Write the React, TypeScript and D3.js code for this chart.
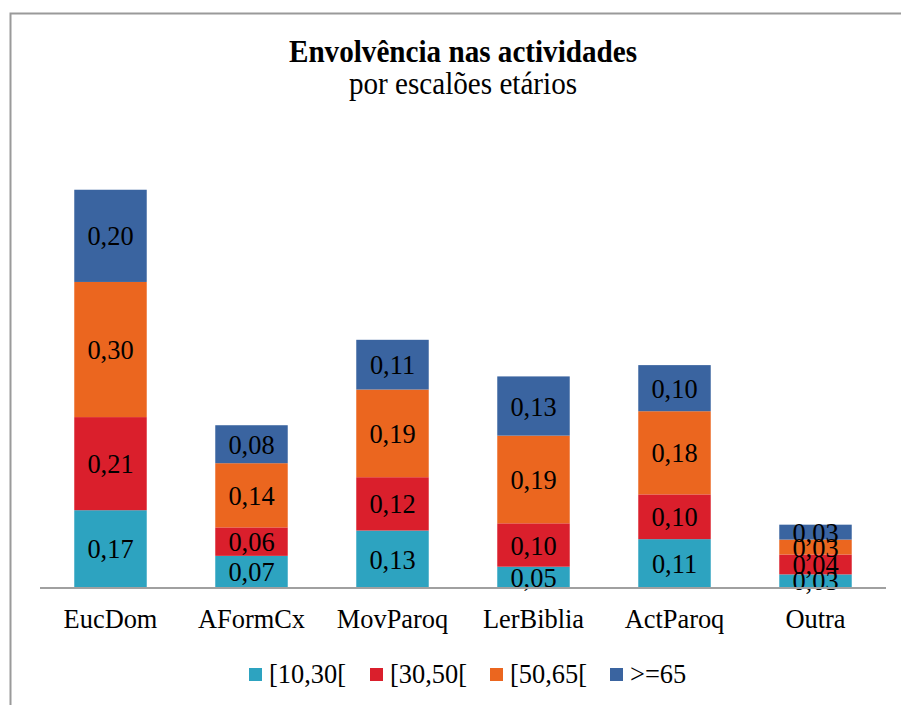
import React from "react";
import * as d3 from "d3";

const categories = ["EucDom", "AFormCx", "MovParoq", "LerBiblia", "ActParoq", "Outra"];
const seriesNames = ["[10,30[", "[30,50[", "[50,65[", ">=65"];
const s1030 = [0.171, 0.070, 0.126, 0.046, 0.107, 0.029];
const s3050 = [0.206, 0.063, 0.118, 0.096, 0.099, 0.044];
const s5065 = [0.299, 0.142, 0.194, 0.194, 0.184, 0.033];
const s65 = [0.204, 0.084, 0.110, 0.131, 0.102, 0.033];
const seriesValues = [s1030, s3050, s5065, s65];
const colors = ["#2DA3C0", "#DA1F2C", "#EB661F", "#3A64A0"];

const W = 901;
const H = 705;
const FONT = "Liberation Serif";

function T(props: {
  x: number;
  y: number;
  size: number;
  sx: number;
  anchor?: string;
  bold?: boolean;
  children: any;
}) {
  return (
    <text
      transform={`translate(${props.x},${props.y}) scale(${props.sx},1)`}
      textAnchor={props.anchor || "start"}
      fontSize={props.size}
      fontWeight={props.bold ? "bold" : "normal"}
      fill="#000"
      style={{ fontFamily: FONT }}
    >
      {props.children}
    </text>
  );
}

export default function App() {
  const x = d3
    .scaleBand<string>()
    .domain(categories)
    .range([40, 886])
    .paddingInner(0.486)
    .paddingOuter(0.243);
  const y = d3.scaleLinear().domain([0, 1]).range([587.5, 135.5]);

  const rows = categories.map((c, i) => {
    const r: any = { cat: c };
    seriesNames.forEach((s, j) => (r[s] = seriesValues[j][i]));
    return r;
  });
  const stacked = d3.stack<any>().keys(seriesNames)(rows);
  const fmt = (v: number) => v.toFixed(2).replace(".", ",");

  const legendX = [249, 370, 490, 610];
  const BS = 27.5;
  const BX = 0.96;

  return (
    <svg
      width={W}
      height={H}
      style={{ position: "absolute", left: 0, top: 0, background: "#fff" }}
    >
      <rect x={0} y={0} width={W} height={H} fill="#fff" />
      <path d="M10.5,706 V13.5 H902" fill="none" stroke="#9a9a9a" strokeWidth={2} />
      <T x={463} y={62} size={31} sx={0.94} anchor="middle" bold>
        Envolvência nas actividades
      </T>
      <T x={463} y={94} size={31} sx={0.94} anchor="middle">
        por escalões etários
      </T>
      {stacked.map((layer, j) => (
        <g key={layer.key}>
          {layer.map((d, i) => (
            <rect
              key={i}
              x={x(categories[i])}
              y={y(d[1])}
              width={x.bandwidth()}
              height={y(d[0]) - y(d[1])}
              fill={colors[j]}
            />
          ))}
        </g>
      ))}
      {stacked.map((layer, j) => (
        <g key={"l" + layer.key}>
          {layer.map((d, i) => (
            <T
              key={i}
              x={(x(categories[i]) as number) + x.bandwidth() / 2}
              y={(y(d[0]) + y(d[1])) / 2 + 9.5}
              size={BS}
              sx={BX}
              anchor="middle"
            >
              {fmt(seriesValues[j][i])}
            </T>
          ))}
        </g>
      ))}
      <line x1={40} x2={886} y1={588} y2={588} stroke="#a0a0a0" strokeWidth={2} />
      {categories.map((c) => (
        <T
          key={c}
          x={(x(c) as number) + x.bandwidth() / 2}
          y={628}
          size={BS}
          sx={BX}
          anchor="middle"
        >
          {c}
        </T>
      ))}
      {seriesNames.map((s, j) => (
        <g key={"lg" + s}>
          <rect x={legendX[j]} y={668} width={13} height={13} fill={colors[j]} />
          <T x={legendX[j] + 20} y={683} size={BS} sx={BX}>
            {s}
          </T>
        </g>
      ))}
    </svg>
  );
}
